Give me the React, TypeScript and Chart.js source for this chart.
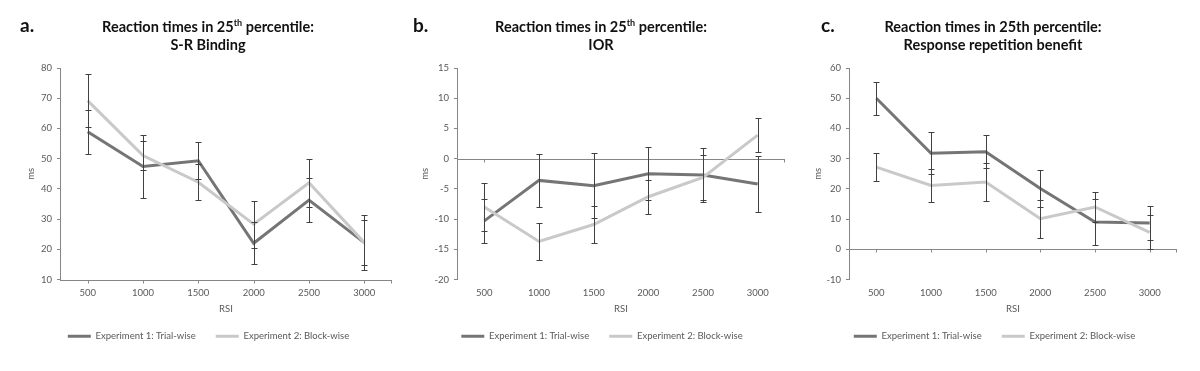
import React, { useEffect, useRef } from 'react';
import { Chart, registerables } from 'chart.js';

Chart.register(...registerables);

// ---- data ----
const rsiLabels = ['500', '1000', '1500', '2000', '2500', '3000'];
const legendLabels = ['Experiment 1: Trial-wise', 'Experiment 2: Block-wise'];

// a. S-R Binding
const srTrial = [58.9, 47.4, 49.3, 22.0, 36.3, 22.2];
const srTrialErr = [7.2, 10.3, 6.1, 7.0, 7.4, 7.4];
const srBlock = [69.2, 51.0, 42.2, 28.3, 42.0, 22.2];
const srBlockErr = [8.8, 4.8, 6.0, 7.8, 8.0, 9.0];

// b. IOR
const iorTrial = [-10.3, -3.6, -4.5, -2.5, -2.7, -4.2];
const iorTrialErr = [3.7, 4.4, 5.4, 4.4, 4.4, 4.6];
const iorBlock = [-8.0, -13.7, -10.9, -6.3, -3.1, 3.9];
const iorBlockErr = [3.9, 3.0, 3.0, 2.8, 3.7, 2.8];

// c. Response repetition benefit
const rrbTrial = [50.0, 31.8, 32.3, 20.1, 9.0, 8.7];
const rrbTrialErr = [5.4, 6.9, 5.5, 6.1, 7.5, 5.6];
const rrbBlock = [27.2, 21.1, 22.3, 10.1, 14.0, 5.6];
const rrbBlockErr = [4.6, 5.5, 6.4, 6.2, 5.0, 5.6];

// ---- styles ----
const FONT = 'Lato, "Open Sans", sans-serif';
const DARK = '#757575';
const LIGHT = '#c9c9c9';
const AXIS = '#868686';
const TEXT = '#595959';
const ERR = '#404040';

const errorBarPlugin = {
  id: 'errorBars',
  afterDatasetsDraw(chart: any, _args: any, opts: any) {
    const { ctx } = chart;
    const xs = chart.scales.x;
    const ys = chart.scales.y;
    const errs = opts.errors || [];
    ctx.save();
    ctx.strokeStyle = opts.color || ERR;
    ctx.lineWidth = 1;
    chart.data.datasets.forEach((ds: any, i: number) => {
      const e = errs[i];
      if (!e) return;
      ds.data.forEach((v: number, j: number) => {
        const px = Math.round(xs.getPixelForValue(j)) + 0.5;
        const top = Math.round(ys.getPixelForValue(v + e[j])) + 0.5;
        const bot = Math.round(ys.getPixelForValue(v - e[j])) + 0.5;
        ctx.beginPath();
        ctx.moveTo(px, top);
        ctx.lineTo(px, bot);
        ctx.moveTo(px - 3, top);
        ctx.lineTo(px + 3, top);
        ctx.moveTo(px - 3, bot);
        ctx.lineTo(px + 3, bot);
        ctx.stroke();
      });
    });
    ctx.restore();
  },
};

const crossAxisPlugin = {
  id: 'crossAxis',
  beforeDatasetsDraw(chart: any, _args: any, opts: any) {
    const { ctx, chartArea } = chart;
    const xs = chart.scales.x;
    const ys = chart.scales.y;
    const py = Math.round(ys.getPixelForValue(opts.value)) + 0.5;
    ctx.save();
    ctx.strokeStyle = AXIS;
    ctx.lineWidth = 1;
    ctx.beginPath();
    ctx.moveTo(chartArea.left, py);
    ctx.lineTo(chartArea.right, py);
    xs.ticks.forEach((_t: any, i: number) => {
      const px = Math.round(xs.getPixelForTick(i)) + 0.5;
      ctx.moveTo(px, py);
      ctx.lineTo(px, py + 3);
    });
    ctx.moveTo(Math.round(chartArea.right) - 0.5, py);
    ctx.lineTo(Math.round(chartArea.right) - 0.5, py + 3);
    ctx.stroke();
    ctx.restore();
  },
};

type PanelProps = {
  left: number;
  padLeft: number;
  padRight: number;
  yWidth: number;
  trial: number[];
  trialErr: number[];
  block: number[];
  blockErr: number[];
  min: number;
  max: number;
  step: number;
  cross: number;
};

function Panel(p: PanelProps) {
  const ref = useRef<HTMLCanvasElement>(null);
  useEffect(() => {
    if (!ref.current) return;
    const font = { family: FONT, size: 9.5 };
    const chart = new Chart(ref.current, {
      type: 'line',
      data: {
        labels: rsiLabels,
        datasets: [
          {
            label: legendLabels[0],
            data: p.trial,
            borderColor: DARK,
            backgroundColor: DARK,
            borderWidth: 3,
            pointRadius: 0,
            tension: 0,
            order: 1,
          },
          {
            label: legendLabels[1],
            data: p.block,
            borderColor: LIGHT,
            backgroundColor: LIGHT,
            borderWidth: 3,
            pointRadius: 0,
            tension: 0,
            order: 0,
          },
        ],
      },
      options: {
        responsive: false,
        animation: false,
        layout: { padding: { left: p.padLeft, right: p.padRight, top: 68, bottom: 20 } },
        scales: {
          x: {
            offset: true,
            grid: { display: false },
            border: { display: false },
            ticks: { color: TEXT, font, padding: 0, maxRotation: 0, autoSkip: false },
            title: { display: true, text: 'RSI', color: TEXT, font, padding: { top: 0, bottom: -3 } },
            afterFit: (s: any) => {
              s.height = 32;
            },
          },
          y: {
            min: p.min,
            max: p.max,
            ticks: { stepSize: p.step, color: TEXT, font, padding: 5 },
            grid: { drawOnChartArea: false, drawTicks: true, tickLength: 3, color: AXIS },
            border: { display: true, color: AXIS },
            title: { display: true, text: 'ms', color: TEXT, font, padding: 0 },
            afterFit: (s: any) => {
              s.width = p.yWidth;
            },
          },
        },
        plugins: {
          tooltip: { enabled: false },
          legend: {
            position: 'bottom',
            labels: {
              boxWidth: 23,
              boxHeight: 3,
              padding: 20,
              color: TEXT,
              font,
              generateLabels: (c: any) =>
                c.data.datasets.map((ds: any, i: number) => ({
                  text: ds.label,
                  fillStyle: ds.borderColor,
                  strokeStyle: ds.borderColor,
                  lineWidth: 0,
                  hidden: false,
                  datasetIndex: i,
                  fontColor: TEXT,
                })),
            },
          },
          errorBars: { errors: [p.trialErr, p.blockErr], color: ERR },
          crossAxis: { value: p.cross },
        } as any,
      },
      plugins: [errorBarPlugin, crossAxisPlugin],
    } as any);
    return () => chart.destroy();
  }, []);
  return (
    <canvas
      ref={ref}
      width={400}
      height={371}
      style={{ position: 'absolute', left: p.left, top: 0, width: 400, height: 371 }}
    />
  );
}

const titleStyle: React.CSSProperties = {
  position: 'absolute',
  top: 18,
  width: 360,
  textAlign: 'center',
  fontFamily: FONT,
  fontWeight: 700,
  fontSize: 14.5,
  lineHeight: '18px',
  color: '#111',
  whiteSpace: 'nowrap',
};

const letterStyle: React.CSSProperties = {
  position: 'absolute',
  top: 15,
  fontFamily: FONT,
  fontWeight: 700,
  fontSize: 19,
  lineHeight: '19px',
  color: '#111',
};

const sup: React.CSSProperties = { fontSize: 9, verticalAlign: 'super', lineHeight: 0 };

export default function App() {
  return (
    <div
      style={{
        position: 'absolute',
        left: 0,
        top: 0,
        width: 1200,
        height: 371,
        background: '#fff',
        overflow: 'hidden',
      }}
    >
      <Panel
        left={0}
        padLeft={25}
        padRight={8}
        yWidth={35}
        trial={srTrial}
        trialErr={srTrialErr}
        block={srBlock}
        blockErr={srBlockErr}
        min={10}
        max={80}
        step={10}
        cross={10}
      />
      <Panel
        left={400}
        padLeft={19}
        padRight={15}
        yWidth={38}
        trial={iorTrial}
        trialErr={iorTrialErr}
        block={iorBlock}
        blockErr={iorBlockErr}
        min={-20}
        max={15}
        step={5}
        cross={0}
      />
      <Panel
        left={800}
        padLeft={12}
        padRight={23}
        yWidth={37}
        trial={rrbTrial}
        trialErr={rrbTrialErr}
        block={rrbBlock}
        blockErr={rrbBlockErr}
        min={-10}
        max={60}
        step={10}
        cross={0}
      />

      <div style={{ ...letterStyle, left: 20 }}>a.</div>
      <div style={{ ...letterStyle, left: 413 }}>b.</div>
      <div style={{ ...letterStyle, left: 821 }}>c.</div>

      <div style={{ ...titleStyle, left: 208 - 180 }}>
        <div>
          Reaction times in 25<span style={sup}>th</span> percentile:
        </div>
        <div>S-R Binding</div>
      </div>
      <div style={{ ...titleStyle, left: 601 - 180 }}>
        <div>
          Reaction times in 25<span style={sup}>th</span> percentile:
        </div>
        <div>IOR</div>
      </div>
      <div style={{ ...titleStyle, left: 993 - 180 }}>
        <div>Reaction times in 25th percentile:</div>
        <div>Response repetition benefit</div>
      </div>
    </div>
  );
}
